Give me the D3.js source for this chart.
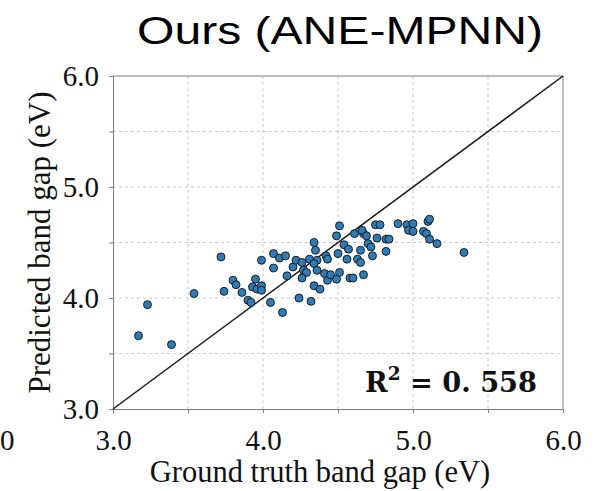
<!DOCTYPE html>
<html>
<head>
<meta charset="utf-8">
<script src="https://cdn.jsdelivr.net/npm/d3@7"></script>
<style>
	body { margin: 0; background: #fff; }
</style>
</head>
<body>
<div id="chart"></div>
<script>
/*Data*/
const groundTruth = [
	3.17, 3.23, 3.39, 3.54, 3.72, 3.74, 3.80, 3.82, 3.86, 3.90,
	3.92, 3.95, 3.93, 3.96, 3.99, 3.99, 3.99, 4.07, 4.11, 4.15,
	4.07, 4.20, 4.22, 4.16, 4.05, 4.13, 4.24, 4.32, 4.26, 4.27,
	4.29, 4.26, 4.31, 4.36, 4.34, 4.34, 4.35, 4.36, 4.34, 4.38,
	4.42, 4.43, 4.41, 4.43, 4.45, 4.49, 4.51, 4.50, 4.49, 4.51,
	4.54, 4.57, 4.56, 4.58, 4.60, 4.61, 4.63, 4.65, 4.65, 4.67,
	4.67, 4.66, 4.69, 4.70, 4.72, 4.73, 4.75, 4.76, 4.78, 4.82,
	4.84, 4.82, 4.90, 4.96, 4.97, 5.00, 5.00, 5.07, 5.09, 5.10,
	5.11, 5.11, 5.16, 5.34
];
const predicted = [
	3.66, 3.94, 3.58, 4.04, 4.37, 4.06, 4.16, 4.12, 4.05, 3.98,
	3.96, 4.17, 4.10, 4.08, 4.11, 4.07, 4.34, 4.40, 4.36, 4.38,
	4.27, 4.28, 4.34, 4.20, 3.96, 3.87, 4.00, 3.97, 4.32, 4.25,
	4.23, 4.18, 4.35, 4.34, 4.31, 4.50, 4.43, 4.25, 4.11, 4.08,
	4.38, 4.35, 4.22, 4.16, 4.21, 4.17, 4.23, 4.40, 4.56, 4.65,
	4.48, 4.44, 4.35, 4.18, 4.18, 4.58, 4.35, 4.43, 4.32, 4.21,
	4.58, 4.61, 4.56, 4.49, 4.46, 4.38, 4.66, 4.54, 4.66, 4.53,
	4.53, 4.42, 4.67, 4.66, 4.61, 4.67, 4.60, 4.60, 4.58, 4.69,
	4.71, 4.53, 4.49, 4.41
];
const axisDomain = [3, 6];
const tickValues = [3, 3.5, 4, 4.5, 5, 5.5, 6];
const titleText = 'Ours (ANE-MPNN)';
const xLabelText = 'Ground truth band gap (eV)';
const yLabelText = 'Predicted band gap (eV)';
const r2Value = '0. 558';

/////////////////////////////////////////////////////////////////////////////
//STYLING
const size = { width: 599, height: 491 };
const plot = { left: 113, top: 76, right: 563, bottom: 409 };
const serif = '"Liberation Serif", "Times New Roman", serif';
const sans = '"Liberation Sans", Arial, sans-serif';
const dotColor = '#2e7bb6';

const svg = d3.select('#chart').append('svg')
	.attr('width', size.width)
	.attr('height', size.height);

const x = d3.scaleLinear().domain(axisDomain).range([plot.left, plot.right]);
const y = d3.scaleLinear().domain(axisDomain).range([plot.bottom, plot.top]);

const label = d => (d % 1 === 0 ? d.toFixed(1) : '');

//grid
const grid = svg.append('g')
	.attr('stroke', '#c8c8c8')
	.attr('stroke-width', 1)
	.attr('stroke-dasharray', '3,3');

grid.selectAll('line.v')
	.data(tickValues.slice(1, -1))
	.join('line')
	.attr('class', 'v')
	.attr('x1', d => x(d)).attr('x2', d => x(d))
	.attr('y1', plot.top).attr('y2', plot.bottom);

grid.selectAll('line.h')
	.data(tickValues.slice(1, -1))
	.join('line')
	.attr('class', 'h')
	.attr('y1', d => y(d)).attr('y2', d => y(d))
	.attr('x1', plot.left).attr('x2', plot.right);

//axes
const xAxis = svg.append('g')
	.attr('transform', `translate(0,${plot.bottom})`)
	.call(d3.axisBottom(x).tickValues(tickValues).tickFormat(label)
		.tickSize(4).tickPadding(16).tickSizeOuter(0));

const yAxis = svg.append('g')
	.attr('transform', `translate(${plot.left},0)`)
	.call(d3.axisLeft(y).tickValues(tickValues).tickFormat(label)
		.tickSize(4).tickPadding(10).tickSizeOuter(0));

[xAxis, yAxis].forEach(a => {
	a.select('.domain').attr('stroke', '#7f7f7f');
	a.selectAll('.tick line').attr('stroke', '#7f7f7f');
	a.selectAll('.tick text')
		.style('font-family', serif)
		.style('font-size', '29px')
		.attr('fill', '#111');
});

//frame top / right
svg.append('path')
	.attr('d', `M${plot.left},${plot.top}H${plot.right}V${plot.bottom}`)
	.attr('fill', 'none')
	.attr('stroke', '#7f7f7f');

//y = x reference
svg.append('line')
	.attr('x1', x(axisDomain[0])).attr('y1', y(axisDomain[0]))
	.attr('x2', x(axisDomain[1])).attr('y2', y(axisDomain[1]))
	.attr('stroke', '#1a1a1a')
	.attr('stroke-width', 1.5);

//points
svg.append('g')
	.selectAll('circle')
	.data(d3.zip(groundTruth, predicted))
	.join('circle')
	.attr('cx', d => x(d[0]))
	.attr('cy', d => y(d[1]))
	.attr('r', 4)
	.attr('fill', dotColor)
	.attr('stroke', '#111')
	.attr('stroke-width', 0.9);

//texts
svg.append('text')
	.attr('x', 137).attr('y', 44)
	.attr('textLength', 406)
	.attr('lengthAdjust', 'spacingAndGlyphs')
	.style('font-family', sans)
	.style('font-size', '38px')
	.attr('fill', '#000')
	.text(titleText);

svg.append('text')
	.attr('x', 320).attr('y', 482)
	.attr('text-anchor', 'middle')
	.style('font-family', serif)
	.style('font-size', '30.5px')
	.attr('fill', '#111')
	.text(xLabelText);

svg.append('text')
	.attr('transform', 'translate(49.5,242.5) rotate(-90)')
	.attr('text-anchor', 'middle')
	.style('font-family', serif)
	.style('font-size', '31px')
	.attr('fill', '#111')
	.text(yLabelText);

//last digit of the neighbouring panel's tick label
svg.append('text')
	.attr('x', 0).attr('y', 450)
	.style('font-family', serif)
	.style('font-size', '29px')
	.attr('fill', '#111')
	.text('0');

const r2 = svg.append('text')
	.attr('x', 365).attr('y', 392)
	.attr('textLength', 172)
	.attr('lengthAdjust', 'spacingAndGlyphs')
	.style('font-family', '"DejaVu Serif", serif')
	.style('font-weight', 'bold')
	.style('font-size', '28px')
	.attr('fill', '#111');
r2.append('tspan').text('R');
r2.append('tspan').attr('dy', -12).style('font-size', '19px').text('2');
r2.append('tspan').attr('dy', 12).text(' = ' + r2Value);
</script>
</body>
</html>
